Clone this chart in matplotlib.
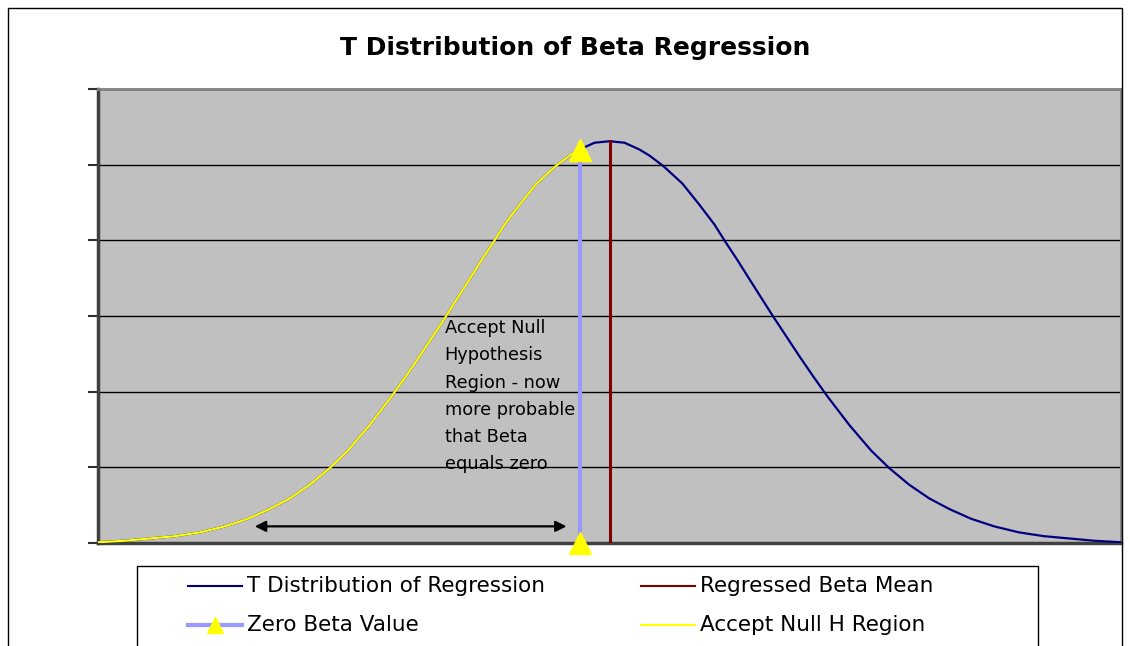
import matplotlib
matplotlib.use("Agg")
import matplotlib.pyplot as plt
from matplotlib.lines import Line2D
from matplotlib.patches import Rectangle

plt.rcParams['font.family'] = ['DejaVu Sans']

# T distribution of the regressed beta (beta value, density)
beta = [-0.482, -0.455, -0.430, -0.405, -0.380, -0.355, -0.332, -0.310,
        -0.290, -0.270, -0.250, -0.232, -0.210, -0.188, -0.174, -0.160,
        -0.147, -0.133, -0.120, -0.108, -0.098, -0.086, -0.075, -0.060,
        -0.043, -0.024, -0.010, 0.000, 0.015, 0.030,
        0.045, 0.060, 0.070, 0.084, 0.103, 0.120, 0.135, 0.146, 0.158,
        0.168, 0.180, 0.193, 0.207, 0.220, 0.234, 0.248, 0.270, 0.292,
        0.310, 0.330, 0.350, 0.370, 0.392, 0.415, 0.440, 0.465, 0.490,
        0.515, 0.542]
density = [0.01, 0.03, 0.06, 0.09, 0.14, 0.22, 0.32, 0.45,
           0.59, 0.77, 0.99, 1.22, 1.56, 1.94, 2.20, 2.47,
           2.73, 3.01, 3.28, 3.53, 3.74, 3.98, 4.21, 4.47,
           4.75, 4.98, 5.12, 5.20, 5.29, 5.31,
           5.29, 5.20, 5.12, 4.98, 4.75, 4.47, 4.21, 3.98, 3.74,
           3.53, 3.28, 3.01, 2.73, 2.47, 2.20, 1.94, 1.56, 1.22,
           0.99, 0.77, 0.59, 0.45, 0.32, 0.22, 0.14, 0.09, 0.06,
           0.03, 0.01]

zero_beta = 0.0          # null hypothesis value
zero_beta_top = 5.20     # density at zero beta
beta_mean = 0.030        # regressed beta mean
beta_mean_top = 5.31     # peak density
arrow_span = [-0.325, -0.013]
arrow_level = 0.22

labels = ["T Distribution of Regression", "Regressed Beta Mean",
          "Zero Beta Value", "Accept Null H Region"]

navy = "#000080"
darkred = "#800000"
lightblue = "#9999FF"
yellow = "#FFFF00"

fig = plt.figure(figsize=(11.3, 6.46), dpi=100)
W, H = 1130, 646
ax = fig.add_axes([98 / W, 1 - 543 / H, (1121 - 98) / W, (543 - 89) / H])
ax.set_facecolor("#C0C0C0")
ax.set_xlim(beta[0], beta[-1])
ax.set_ylim(0, 6)
ax.set_yticks(range(0, 7))
ax.set_yticklabels([])
ax.set_xticks([])
ax.tick_params(axis='y', direction='out', length=7, width=1.5, color="#303030")
ax.grid(axis='y', color='black', linewidth=1.0)
ax.set_axisbelow(True)
for side in ("left", "bottom"):
    ax.spines[side].set_color("#404040")
    ax.spines[side].set_linewidth(2.5)
for side in ("top", "right"):
    ax.spines[side].set_color("#808080")
    ax.spines[side].set_linewidth(2)

# full distribution
ax.plot(beta, density, color=navy, lw=1.6, zorder=3)

# accept-null region: part of the curve left of zero beta
null_x = [b for b in beta if b <= zero_beta]
null_y = density[:len(null_x)]
ax.plot(null_x, null_y, color=yellow, lw=1.6, zorder=4)

# regressed beta mean
ax.plot([beta_mean, beta_mean], [0, beta_mean_top], color=darkred, lw=2.2, zorder=5)

# zero beta value with triangle markers
ax.plot([zero_beta, zero_beta], [0, zero_beta_top], color=lightblue, lw=3,
        marker='^', markersize=16, markerfacecolor=yellow, markeredgecolor=yellow,
        zorder=6, clip_on=False)

# double-headed arrow spanning the accept region
ax.annotate("", xy=(arrow_span[0], arrow_level), xytext=(arrow_span[1], arrow_level),
            arrowprops=dict(arrowstyle="<|-|>", color="black", lw=1.6,
                            mutation_scale=16, shrinkA=0, shrinkB=0), zorder=5)

ax.text(-0.135, 2.96, "Accept Null\nHypothesis\nRegion - now\nmore probable\nthat Beta\nequals zero",
        fontsize=12.8, va='top', ha='left', linespacing=1.66, color='black', zorder=2)

fig.text(575 / W, 1 - 48 / H, "T Distribution of Beta Regression", fontsize=18,
         fontweight='bold', ha='center', va='center')

# chart border
fig.add_artist(Rectangle((8 / W, -0.01), (1122 - 8) / W, 1 - 8 / H + 0.01,
                         transform=fig.transFigure, fill=False, edgecolor='black', lw=1))

# legend box
fig.add_artist(Rectangle((137 / W, -0.02), (1038 - 137) / W, 1 - 566 / H + 0.02,
                         transform=fig.transFigure, fill=False, edgecolor='black', lw=1))

def legend_entry(x0, y, label, color, lw, marker=None):
    fig.add_artist(Line2D([x0 / W, (x0 + 54) / W], [1 - y / H, 1 - y / H],
                          transform=fig.transFigure, color=color, lw=lw))
    if marker:
        fig.add_artist(Line2D([(x0 + 27) / W], [1 - y / H], transform=fig.transFigure,
                              marker=marker, markersize=12, color=yellow, lw=0))
    fig.text((x0 + 59) / W, 1 - y / H, label, fontsize=15.5, ha='left', va='center')

legend_entry(188, 586, labels[0], navy, 1.5)
legend_entry(641, 586, labels[1], darkred, 1.5)
legend_entry(188, 625, labels[2], lightblue, 3, marker='^')
legend_entry(641, 625, labels[3], yellow, 1.5)

fig.savefig("out.png", dpi=100)
